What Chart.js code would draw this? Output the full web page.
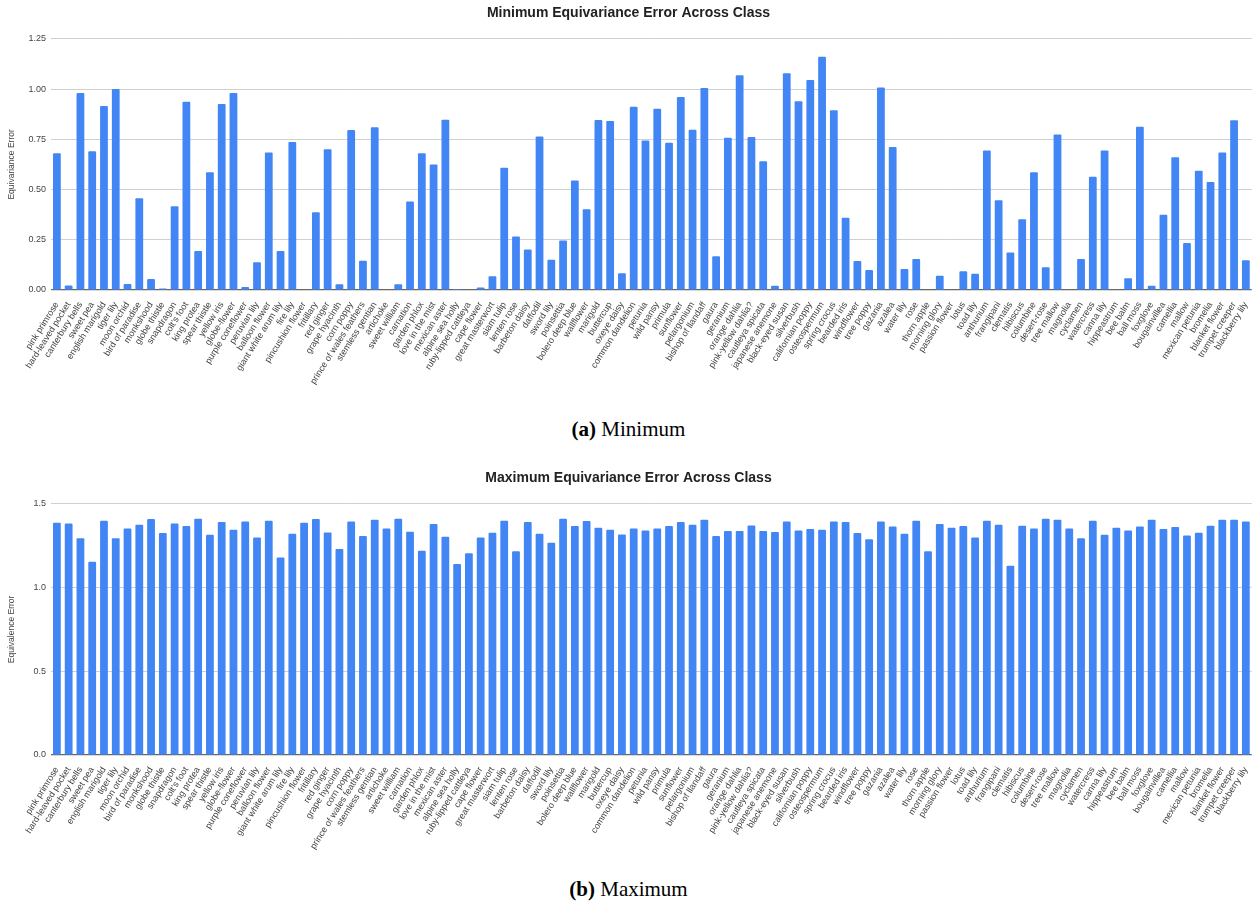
<!DOCTYPE html>
<html lang="en">
<head>
  <meta charset="UTF-8">
  <title>Equivariance Error Across Class</title>
  <script src="https://cdn.jsdelivr.net/npm/chart.js"></script>
  <style>
    body {
      margin: 0;
      background: #fff;
      width: 1257px;
      height: 905px;
      position: relative;
      overflow: hidden;
    }
    .panel {
      position: absolute;
      left: 0;
      width: 1257px;
      height: 400px;
    }
    #minBox { top: 0; }
    #maxBox { top: 465px; }
    .caption {
      position: absolute;
      left: 0;
      width: 1257px;
      text-align: center;
      font-family: "Liberation Serif", "Times New Roman", serif;
      font-size: 21px;
      color: #000;
    }
    #capA { top: 417px; }
    #capB { top: 877px; }
  </style>
</head>
<body>

<div class="panel" id="minBox"><canvas id="minChart"></canvas></div>
<div class="caption" id="capA"><b>(a)</b> Minimum</div>
<div class="panel" id="maxBox"><canvas id="maxChart"></canvas></div>
<div class="caption" id="capB"><b>(b)</b> Maximum</div>

<script>
  // flower classes, in the order they appear on the x axis
  const classNames = [
    'pink primrose', 'hard-leaved pocket', 'canterbury bells', 'sweet pea', 'english marigold',
    'tiger lily', 'moon orchid', 'bird of paradise', 'monkshood', 'globe thistle',
    'snapdragon', "colt's foot", 'king protea', 'spear thistle', 'yellow iris',
    'globe-flower', 'purple coneflower', 'peruvian lily', 'balloon flower', 'giant white arum lily',
    'fire lily', 'pincushion flower', 'fritillary', 'red ginger', 'grape hyacinth',
    'corn poppy', 'prince of wales feathers', 'stemless gentian', 'artichoke', 'sweet william',
    'carnation', 'garden phlox', 'love in the mist', 'mexican aster', 'alpine sea holly',
    'ruby-lipped cattleya', 'cape flower', 'great masterwort', 'siam tulip', 'lenten rose',
    'barbeton daisy', 'daffodil', 'sword lily', 'poinsettia', 'bolero deep blue',
    'wallflower', 'marigold', 'buttercup', 'oxeye daisy', 'common dandelion',
    'petunia', 'wild pansy', 'primula', 'sunflower', 'pelargonium',
    'bishop of llandaff', 'gaura', 'geranium', 'orange dahlia', 'pink-yellow dahlia?',
    'cautleya spicata', 'japanese anemone', 'black-eyed susan', 'silverbush', 'californian poppy',
    'osteospermum', 'spring crocus', 'bearded iris', 'windflower', 'tree poppy',
    'gazania', 'azalea', 'water lily', 'rose', 'thorn apple',
    'morning glory', 'passion flower', 'lotus', 'toad lily', 'anthurium',
    'frangipani', 'clematis', 'hibiscus', 'columbine', 'desert-rose',
    'tree mallow', 'magnolia', 'cyclamen', 'watercress', 'canna lily',
    'hippeastrum', 'bee balm', 'ball moss', 'foxglove', 'bougainvillea',
    'camellia', 'mallow', 'mexican petunia', 'bromelia', 'blanket flower',
    'trumpet creeper', 'blackberry lily'
  ];

  // (a) minimum equivariance error per class
  const minError = [
    0.68, 0.023, 0.98, 0.69, 0.915, 1.0, 0.03, 0.457, 0.055, 0.007,
    0.417, 0.937, 0.194, 0.586, 0.925, 0.98, 0.015, 0.138, 0.684, 0.194,
    0.736, 0.0, 0.387, 0.70, 0.028, 0.796, 0.145, 0.81, 0.003, 0.028,
    0.44, 0.68, 0.625, 0.847, 0.005, 0.0, 0.012, 0.068, 0.608, 0.266,
    0.201, 0.764, 0.151, 0.246, 0.545, 0.402, 0.846, 0.841, 0.083, 0.912,
    0.744, 0.902, 0.733, 0.96, 0.797, 1.005, 0.168, 0.758, 1.068, 0.761,
    0.641, 0.021, 1.078, 0.939, 1.045, 1.161, 0.894, 0.359, 0.144, 0.10,
    1.008, 0.711, 0.105, 0.154, 0.0, 0.071, 0.003, 0.093, 0.081, 0.694,
    0.447, 0.186, 0.352, 0.586, 0.113, 0.774, 0.0, 0.154, 0.563, 0.694,
    0.003, 0.058, 0.812, 0.021, 0.374, 0.661, 0.234, 0.593, 0.538, 0.684,
    0.845, 0.148
  ];

  // (b) maximum equivariance error per class
  const maxError = [
    1.387, 1.383, 1.295, 1.154, 1.399, 1.295, 1.353, 1.375, 1.409, 1.325,
    1.383, 1.367, 1.411, 1.315, 1.391, 1.345, 1.395, 1.299, 1.399, 1.18,
    1.321, 1.387, 1.409, 1.329, 1.23, 1.395, 1.307, 1.405, 1.353, 1.411,
    1.333, 1.22, 1.379, 1.303, 1.14, 1.204, 1.299, 1.327, 1.399, 1.216,
    1.391, 1.321, 1.267, 1.411, 1.367, 1.397, 1.357, 1.345, 1.317, 1.353,
    1.341, 1.353, 1.367, 1.391, 1.375, 1.405, 1.307, 1.337, 1.337, 1.371,
    1.337, 1.331, 1.395, 1.341, 1.349, 1.345, 1.395, 1.391, 1.325, 1.289,
    1.395, 1.365, 1.321, 1.399, 1.216, 1.379, 1.357, 1.367, 1.299, 1.399,
    1.375, 1.13, 1.369, 1.353, 1.411, 1.405, 1.353, 1.295, 1.399, 1.315,
    1.357, 1.341, 1.365, 1.405, 1.349, 1.361, 1.311, 1.327, 1.369, 1.405,
    1.405, 1.395
  ];

  const barColor = '#4285f4';
  const sans = 'Arial, "Liberation Sans", sans-serif';

  function makeChart(id, title, yTitle, values, yMax, step, digits) {
    const ctx = document.getElementById(id).getContext('2d');
    return new Chart(ctx, {
      type: 'bar',
      data: {
        labels: classNames,
        datasets: [{
          data: values,
          backgroundColor: barColor,
          borderRadius: 1,
          barPercentage: 0.66,
          categoryPercentage: 1.0
        }]
      },
      options: {
        responsive: true,
        maintainAspectRatio: false,
        animation: false,
        layout: { padding: 0 },
        plugins: {
          legend: { display: false },
          tooltip: { enabled: false },
          title: {
            display: true,
            text: title,
            color: '#222',
            font: { family: sans, size: 14, weight: 'bold' },
            padding: { top: 5, bottom: 17 }
          }
        },
        scales: {
          x: {
            grid: { display: false },
            border: { display: false },
            ticks: {
              autoSkip: false,
              minRotation: 58,
              maxRotation: 58,
              padding: 2,
              color: '#444',
              font: { family: sans, size: 9 }
            },
            afterFit: s => { s.height = 110; }
          },
          y: {
            min: 0,
            max: yMax,
            border: { display: false },
            grid: {
              drawTicks: false,
              color: c => c.tick && c.tick.value === 0 ? '#666' : '#d0d0d0',
              lineWidth: c => c.tick && c.tick.value === 0 ? 1.2 : 1
            },
            ticks: {
              stepSize: step,
              padding: 5,
              color: '#444',
              font: { family: sans, size: 9 },
              callback: v => Number(v).toFixed(digits)
            },
            title: {
              display: true,
              text: yTitle,
              color: '#444',
              padding: { top: 7, bottom: 0 },
              font: { family: sans, size: 8.5 }
            },
            afterFit: s => { s.width = 51; }
          }
        }
      }
    });
  }

  makeChart('minChart', 'Minimum Equivariance Error Across Class', 'Equivariance Error',
    minError, 1.25, 0.25, 2);
  makeChart('maxChart', 'Maximum Equivariance Error Across Class', 'Equivalence Error',
    maxError, 1.5, 0.5, 1);
</script>

</body>
</html>
